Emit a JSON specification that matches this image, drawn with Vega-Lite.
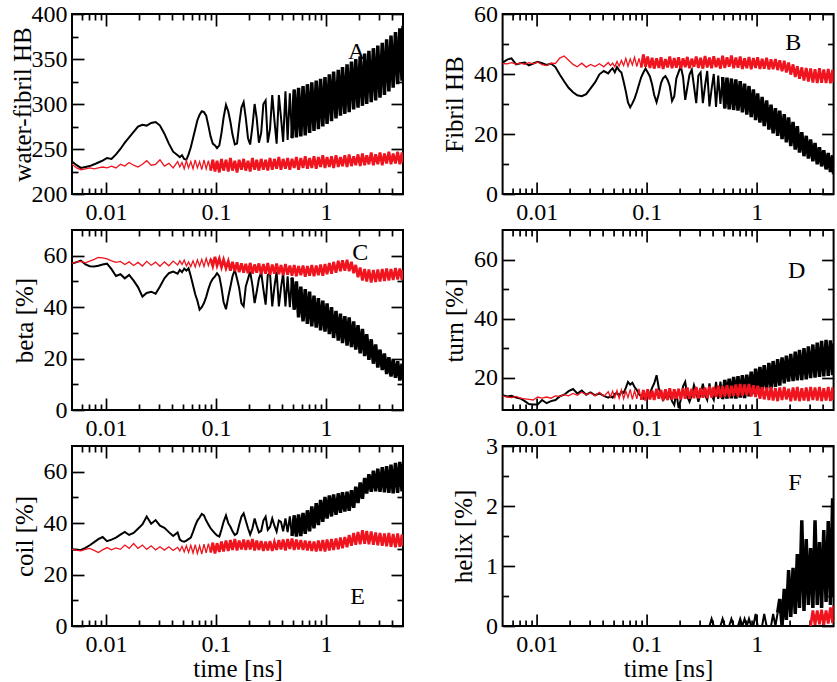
{
"$schema":"https://vega.github.io/schema/vega-lite/v6.json",
"background":"white",
"padding":{"left":8,"top":1,"right":2,"bottom":2},
"config":{
 "view":{"stroke":"black","strokeWidth":2},
 "font":"Liberation Serif",
 "style":{"guide-label":{"font":"Liberation Serif"},"guide-title":{"font":"Liberation Serif"}},
 "axis":{"domain":false,"grid":false,"labelFont":"Liberation Serif","labelFontSize":24,"labelColor":"black","titleFont":"Liberation Serif","titleFontSize":25,"titleFontWeight":"normal","titleColor":"black","tickColor":"black","tickWidth":1.7,"labelFlush":false,"labelOverlap":false}
},
"datasets":{"main":[
{"t":0.0049,"a":236,"ar":233,"b":43.8,"br":43.5,"c":57.0,"cr":57.0,"d":14.0,"dr":13.8,"e":29.9,"er":29.9,"f":0},
{"t":0.0054,"a":232,"ar":229,"b":44.8,"br":43.4,"c":57.5,"cr":57.6,"d":13.6,"dr":13.4,"e":29.6,"er":29.4,"f":0},
{"t":0.0059,"a":229,"ar":227,"b":45.2,"br":43.8,"c":58.1,"cr":57.8,"d":13.8,"dr":13.2,"e":29.6,"er":29.2,"f":0},
{"t":0.0065,"a":230,"ar":228,"b":43.2,"br":43.3,"c":56.6,"cr":57.2,"d":13.2,"dr":13.6,"e":30.4,"er":29.8,"f":0},
{"t":0.0071,"a":231,"ar":229,"b":43.6,"br":43.6,"c":55.9,"cr":57.9,"d":12.9,"dr":13.0,"e":31.4,"er":30.2,"f":0},
{"t":0.0078,"a":233,"ar":228,"b":43.8,"br":43.2,"c":55.8,"cr":58.6,"d":12.0,"dr":12.8,"e":32.6,"er":29.4,"f":0},
{"t":0.0085,"a":235,"ar":229,"b":42.9,"br":43.8,"c":56.1,"cr":59.3,"d":11.0,"dr":12.6,"e":33.8,"er":28.6,"f":0},
{"t":0.0093,"a":237,"ar":230,"b":43.5,"br":43.4,"c":56.6,"cr":59.2,"d":10.9,"dr":12.4,"e":34.6,"er":29.6,"f":0},
{"t":0.0102,"a":240,"ar":229,"b":44.1,"br":44.0,"c":56.9,"cr":58.8,"d":10.9,"dr":13.4,"e":33.0,"er":30.5,"f":0},
{"t":0.0112,"a":239,"ar":231,"b":43.6,"br":43.1,"c":54.8,"cr":58.0,"d":12.4,"dr":13.0,"e":33.6,"er":29.6,"f":0},
{"t":0.0123,"a":244,"ar":229,"b":43.0,"br":42.8,"c":52.1,"cr":57.4,"d":11.3,"dr":13.4,"e":34.4,"er":30.4,"f":0},
{"t":0.0135,"a":250,"ar":233,"b":43.5,"br":43.6,"c":52.8,"cr":57.8,"d":12.0,"dr":13.0,"e":35.5,"er":29.8,"f":0},
{"t":0.0148,"a":257,"ar":231,"b":42.3,"br":43.5,"c":51.2,"cr":56.6,"d":12.4,"dr":13.8,"e":36.6,"er":31.5,"f":0},
{"t":0.0162,"a":263,"ar":235,"b":39.8,"br":45.3,"c":52.5,"cr":57.6,"d":13.6,"dr":13.6,"e":35.4,"er":30.2,"f":0},
{"t":0.0178,"a":269,"ar":232,"b":37.5,"br":46.0,"c":50.3,"cr":56.2,"d":14.2,"dr":14.2,"e":36.2,"er":32.1,"f":0},
{"t":0.0195,"a":275,"ar":230,"b":35.4,"br":44.6,"c":47.8,"cr":57.4,"d":15.4,"dr":13.8,"e":37.8,"er":30.2,"f":0},
{"t":0.0214,"a":277,"ar":233,"b":33.9,"br":43.2,"c":44.1,"cr":56.0,"d":16.1,"dr":14.6,"e":39.5,"er":31.5,"f":0},
{"t":0.0234,"a":276,"ar":237,"b":32.9,"br":42.4,"c":45.5,"cr":57.8,"d":14.6,"dr":14.0,"e":42.6,"er":29.8,"f":0},
{"t":0.0257,"a":279,"ar":232,"b":32.6,"br":43.6,"c":46.0,"cr":56.3,"d":15.6,"dr":15.0,"e":39.8,"er":31.2,"f":0},
{"t":0.0282,"a":280,"ar":233,"b":33.3,"br":42.3,"c":45.2,"cr":57.5,"d":14.2,"dr":14.2,"e":41.2,"er":29.6,"f":0},
{"t":0.0309,"a":276,"ar":238,"b":35.2,"br":43.2,"c":48.0,"cr":55.9,"d":15.0,"dr":14.8,"e":39.0,"er":30.8,"f":0},
{"t":0.0339,"a":267,"ar":231,"b":37.2,"br":42.5,"c":51.2,"cr":57.6,"d":14.0,"dr":13.8,"e":38.2,"er":29.5,"f":0},
{"t":0.0372,"a":256,"ar":234,"b":39.9,"br":43.4,"c":53.2,"cr":56.1,"d":14.6,"dr":15.0,"e":36.5,"er":30.8,"f":0},
{"t":0.0407,"a":247,"ar":229,"b":41.0,"br":42.4,"c":53.8,"cr":57.9,"d":13.8,"dr":13.6,"e":35.0,"er":29.4,"f":0},
{"t":0.0447,"a":243,"ar":236,"b":40.2,"br":43.8,"c":53.0,"cr":56.4,"d":13.2,"dr":15.2,"e":36.4,"er":30.6,"f":0},
{"t":0.0468,"a":241,"ar":230,"b":41.2,"br":42.8,"c":54.5,"cr":58.0,"d":13.6,"dr":13.4,"e":33.6,"er":29.2,"f":0},
{"t":0.049,"a":243,"ar":235,"b":41.9,"br":43.6,"c":53.6,"cr":56.6,"d":13.2,"dr":15.4,"e":33.0,"er":31.0,"f":0},
{"t":0.0513,"a":239,"ar":228,"b":40.6,"br":42.4,"c":55.0,"cr":58.3,"d":14.4,"dr":13.2,"e":32.8,"er":28.8,"f":0},
{"t":0.0537,"a":238,"ar":237,"b":42.3,"br":44.2,"c":54.2,"cr":56.0,"d":14.8,"dr":15.6,"e":33.2,"er":31.2,"f":0},
{"t":0.0562,"a":244,"ar":229,"b":41.2,"br":42.6,"c":55.1,"cr":57.6,"d":13.8,"dr":13.0,"e":33.8,"er":28.6,"f":0},
{"t":0.0589,"a":252,"ar":236,"b":40.5,"br":44.5,"c":52.0,"cr":55.8,"d":15.2,"dr":15.8,"e":34.4,"er":31.4,"f":0},
{"t":0.0617,"a":262,"ar":228,"b":37.5,"br":42.8,"c":48.5,"cr":58.0,"d":14.8,"dr":12.8,"e":36.6,"er":28.4,"f":0},
{"t":0.0646,"a":272,"ar":238,"b":34.2,"br":45.2,"c":45.0,"cr":55.6,"d":16.5,"dr":15.4,"e":39.0,"er":31.6,"f":0},
{"t":0.0676,"a":282,"ar":229,"b":30.5,"br":42.6,"c":42.5,"cr":58.4,"d":18.5,"dr":13.2,"e":41.0,"er":28.2,"f":0},
{"t":0.0708,"a":288,"ar":236,"b":28.9,"br":45.0,"c":39.0,"cr":56.0,"d":17.6,"dr":16.0,"e":42.2,"er":31.2,"f":0},
{"t":0.0741,"a":292,"ar":227,"b":30.2,"br":43.0,"c":40.0,"cr":58.6,"d":18.2,"dr":12.6,"e":43.6,"er":28.0,"f":0},
{"t":0.0776,"a":291,"ar":238,"b":31.8,"br":45.6,"c":41.6,"cr":55.8,"d":16.8,"dr":15.6,"e":43.0,"er":31.8,"f":0},
{"t":0.0813,"a":287,"ar":228,"b":34.0,"br":42.5,"c":44.0,"cr":59.0,"d":15.8,"dr":12.8,"e":41.0,"er":28.4,"f":0},
{"t":0.0851,"a":276,"ar":237,"b":36.5,"br":45.2,"c":47.0,"cr":56.2,"d":14.4,"dr":16.2,"e":39.5,"er":32.0,"f":0},
{"t":0.0891,"a":264,"ar":226,"b":38.9,"br":42.2,"c":49.5,"cr":58.8,"d":13.6,"dr":12.4,"e":38.0,"er":28.6,"f":0},
{"t":0.0933,"a":256,"ar":238,"b":40.5,"br":46.5,"c":51.0,"cr":56.0,"d":12.9,"dr":15.8,"e":37.0,"er":32.4,"f":0},
{"t":0.0977,"a":254,"ar":225,"b":41.8,"br":42.4,"c":52.0,"cr":59.6,"d":14.0,"dr":12.2,"e":36.0,"er":28.2,"f":0},
{"t":0.102,"a":251,"ar":237,"b":40.6,"br":45.8,"c":53.2,"cr":56.2,"d":13.2,"dr":16.0,"e":35.2,"er":32.2,"f":0},
{"t":0.107,"a":254,"ar":224,"b":39.2,"br":42.0,"c":52.0,"cr":58.8,"d":14.6,"dr":12.6,"e":34.8,"er":28.8,"f":0},
{"t":0.112,"a":268,"ar":239,"b":36.5,"br":45.4,"c":47.5,"cr":55.6,"d":16.5,"dr":15.6,"e":37.5,"er":32.8,"f":0},
{"t":0.117,"a":285,"ar":226,"b":33.0,"br":41.8,"c":42.0,"cr":58.4,"d":18.0,"dr":12.4,"e":40.5,"er":29.0,"f":0},
{"t":0.123,"a":299,"ar":238,"b":30.6,"br":45.2,"c":39.2,"cr":55.2,"d":20.8,"dr":16.2,"e":43.0,"er":33.2,"f":0},
{"t":0.129,"a":292,"ar":225,"b":33.5,"br":42.0,"c":44.0,"cr":57.8,"d":16.3,"dr":12.8,"e":40.0,"er":29.2,"f":0},
{"t":0.135,"a":280,"ar":240,"b":37.0,"br":45.6,"c":48.0,"cr":54.2,"d":14.5,"dr":15.8,"e":38.6,"er":33.4,"f":0},
{"t":0.141,"a":266,"ar":226,"b":38.6,"br":41.7,"c":52.0,"cr":57.6,"d":12.4,"dr":12.2,"e":36.8,"er":29.6,"f":0},
{"t":0.148,"a":255,"ar":237,"b":39.3,"br":45.0,"c":54.5,"cr":54.0,"d":13.6,"dr":16.0,"e":35.4,"er":33.8,"f":0},
{"t":0.155,"a":256,"ar":224,"b":38.0,"br":42.2,"c":51.0,"cr":57.4,"d":12.8,"dr":12.4,"e":36.0,"er":29.4,"f":0},
{"t":0.162,"a":277,"ar":238,"b":36.0,"br":45.8,"c":47.5,"cr":53.6,"d":14.2,"dr":16.4,"e":39.3,"er":33.2,"f":0},
{"t":0.170,"a":296,"ar":227,"b":31.0,"br":41.9,"c":41.5,"cr":57.0,"d":12.0,"dr":12.6,"e":42.5,"er":29.8,"f":0},
{"t":0.178,"a":302,"ar":239,"b":32.5,"br":45.3,"c":40.3,"cr":53.4,"d":10.7,"dr":16.0,"e":43.8,"er":33.6,"f":0},
{"t":0.186,"a":285,"ar":226,"b":38.5,"br":42.1,"c":48.0,"cr":56.8,"d":15.0,"dr":12.8,"e":41.0,"er":29.6,"f":0},
{"t":0.195,"a":262,"ar":237,"b":40.6,"br":45.6,"c":51.0,"cr":53.2,"d":9.6,"dr":16.2,"e":38.0,"er":33.4,"f":0},
{"t":0.204,"a":255,"ar":225,"b":42.6,"br":41.8,"c":53.8,"cr":57.2,"d":12.5,"dr":12.6,"e":35.6,"er":29.8,"f":0},
{"t":0.214,"a":275,"ar":240,"b":39.0,"br":45.2,"c":48.5,"cr":53.0,"d":17.0,"dr":16.4,"e":38.0,"er":33.8,"f":0},
{"t":0.224,"a":300,"ar":227,"b":31.4,"br":42.3,"c":41.6,"cr":56.6,"d":18.5,"dr":12.8,"e":41.8,"er":29.4,"f":0},
{"t":0.234,"a":284,"ar":238,"b":35.5,"br":45.7,"c":46.0,"cr":53.4,"d":13.5,"dr":16.6,"e":39.0,"er":33.2,"f":0},
{"t":0.245,"a":257,"ar":226,"b":39.8,"br":41.9,"c":51.0,"cr":57.0,"d":11.8,"dr":12.8,"e":36.4,"er":29.6,"f":0},
{"t":0.257,"a":268,"ar":239,"b":41.4,"br":45.1,"c":53.5,"cr":52.8,"d":14.0,"dr":16.2,"e":37.0,"er":33.0,"f":0},
{"t":0.269,"a":300,"ar":227,"b":36.0,"br":42.4,"c":47.0,"cr":56.8,"d":17.4,"dr":13.0,"e":41.0,"er":29.2,"f":0},
{"t":0.282,"a":304,"ar":238,"b":30.3,"br":45.8,"c":41.0,"cr":53.0,"d":15.0,"dr":16.8,"e":42.5,"er":32.8,"f":0},
{"t":0.295,"a":257,"ar":226,"b":39.5,"br":42.0,"c":52.5,"cr":57.2,"d":11.8,"dr":12.9,"e":37.4,"er":29.4,"f":0},
{"t":0.309,"a":272,"ar":240,"b":40.5,"br":45.4,"c":53.2,"cr":52.6,"d":14.5,"dr":16.4,"e":38.5,"er":33.0,"f":0},
{"t":0.324,"a":310,"ar":227,"b":30.3,"br":41.8,"c":40.3,"cr":56.6,"d":17.9,"dr":13.2,"e":41.8,"er":29.2,"f":0},
{"t":0.339,"a":282,"ar":239,"b":36.0,"br":46.0,"c":48.0,"cr":53.0,"d":14.0,"dr":16.6,"e":39.0,"er":32.6,"f":0},
{"t":0.355,"a":256,"ar":228,"b":41.0,"br":42.2,"c":53.8,"cr":57.0,"d":12.4,"dr":13.0,"e":36.7,"er":29.6,"f":0},
{"t":0.372,"a":310,"ar":241,"b":29.2,"br":45.5,"c":40.3,"cr":52.8,"d":18.0,"dr":17.0,"e":41.0,"er":33.4,"f":0},
{"t":0.389,"a":285,"ar":227,"b":35.0,"br":41.9,"c":47.5,"cr":56.4,"d":14.0,"dr":13.2,"e":40.5,"er":29.8,"f":0.12},
{"t":0.407,"a":258,"ar":239,"b":40.0,"br":45.9,"c":53.2,"cr":52.4,"d":12.4,"dr":16.8,"e":36.8,"er":33.6,"f":0},
{"t":0.427,"a":314,"ar":228,"b":29.0,"br":42.3,"c":40.3,"cr":56.8,"d":18.5,"dr":13.4,"e":41.8,"er":29.4,"f":0},
{"t":0.447,"a":260,"ar":240,"b":39.5,"br":45.3,"c":52.0,"cr":52.6,"d":12.8,"dr":17.2,"e":36.5,"er":33.8,"f":0},
{"t":0.468,"a":312,"ar":227,"b":30.0,"br":41.8,"c":40.0,"cr":56.2,"d":18.6,"dr":13.2,"e":42.6,"er":30.0,"f":0},
{"t":0.490,"a":262,"ar":239,"b":39.0,"br":46.1,"c":51.5,"cr":52.2,"d":12.7,"dr":17.0,"e":35.0,"er":34.0,"f":0.12},
{"t":0.513,"a":316,"ar":229,"b":28.5,"br":42.0,"c":39.0,"cr":56.4,"d":19.2,"dr":13.6,"e":43.0,"er":29.6,"f":0},
{"t":0.537,"a":263,"ar":241,"b":38.8,"br":45.6,"c":50.0,"cr":52.0,"d":12.9,"dr":17.4,"e":34.8,"er":33.6,"f":0},
{"t":0.562,"a":318,"ar":227,"b":28.2,"br":42.4,"c":36.0,"cr":56.0,"d":19.6,"dr":13.4,"e":43.4,"er":29.8,"f":0},
{"t":0.589,"a":264,"ar":240,"b":38.5,"br":46.2,"c":48.0,"cr":52.4,"d":13.0,"dr":17.2,"e":35.0,"er":33.4,"f":0.12},
{"t":0.617,"a":320,"ar":229,"b":28.0,"br":41.9,"c":34.5,"cr":56.2,"d":20.2,"dr":13.8,"e":44.0,"er":29.6,"f":0},
{"t":0.646,"a":265,"ar":242,"b":38.2,"br":45.5,"c":47.0,"cr":51.8,"d":12.9,"dr":17.6,"e":35.8,"er":33.2,"f":0},
{"t":0.676,"a":322,"ar":228,"b":27.8,"br":42.1,"c":33.5,"cr":56.0,"d":20.5,"dr":13.6,"e":45.0,"er":29.4,"f":0},
{"t":0.708,"a":268,"ar":240,"b":37.6,"br":45.8,"c":46.0,"cr":52.2,"d":13.2,"dr":17.8,"e":36.8,"er":33.0,"f":0.12},
{"t":0.741,"a":324,"ar":229,"b":27.2,"br":41.7,"c":32.5,"cr":56.4,"d":20.8,"dr":13.8,"e":46.5,"er":29.2,"f":0},
{"t":0.776,"a":270,"ar":242,"b":36.8,"br":45.2,"c":44.5,"cr":52.0,"d":13.0,"dr":17.6,"e":38.0,"er":32.8,"f":0.12},
{"t":0.813,"a":326,"ar":228,"b":26.5,"br":41.9,"c":32.0,"cr":56.2,"d":21.0,"dr":14.0,"e":47.8,"er":29.0,"f":0},
{"t":0.851,"a":272,"ar":241,"b":36.0,"br":45.7,"c":43.5,"cr":52.4,"d":13.6,"dr":17.8,"e":39.2,"er":33.2,"f":0.12},
{"t":0.891,"a":328,"ar":230,"b":25.6,"br":41.6,"c":31.0,"cr":56.6,"d":22.0,"dr":13.6,"e":49.0,"er":29.2,"f":0},
{"t":0.933,"a":275,"ar":243,"b":34.9,"br":45.3,"c":42.5,"cr":52.2,"d":14.5,"dr":17.4,"e":40.5,"er":33.4,"f":0},
{"t":0.977,"a":330,"ar":229,"b":24.6,"br":42.0,"c":30.5,"cr":56.8,"d":23.0,"dr":13.4,"e":50.2,"er":29.0,"f":0.2},
{"t":1.02,"a":278,"ar":241,"b":33.5,"br":45.6,"c":41.5,"cr":52.8,"d":15.2,"dr":17.2,"e":41.8,"er":33.6,"f":0},
{"t":1.07,"a":333,"ar":230,"b":23.8,"br":41.7,"c":29.5,"cr":57.2,"d":23.6,"dr":12.8,"e":50.8,"er":29.4,"f":0},
{"t":1.12,"a":281,"ar":242,"b":32.4,"br":45.1,"c":40.0,"cr":53.0,"d":15.6,"dr":16.8,"e":42.6,"er":33.8,"f":0},
{"t":1.17,"a":336,"ar":229,"b":22.6,"br":41.8,"c":28.0,"cr":57.6,"d":24.2,"dr":12.6,"e":51.2,"er":29.6,"f":0.2},
{"t":1.23,"a":284,"ar":243,"b":31.2,"br":45.4,"c":38.5,"cr":53.4,"d":16.0,"dr":16.6,"e":43.2,"er":34.0,"f":0},
{"t":1.29,"a":338,"ar":230,"b":21.5,"br":41.5,"c":27.0,"cr":58.0,"d":25.0,"dr":12.4,"e":51.6,"er":29.8,"f":0},
{"t":1.35,"a":287,"ar":241,"b":29.8,"br":44.9,"c":37.5,"cr":54.0,"d":16.3,"dr":16.8,"e":44.0,"er":34.4,"f":0},
{"t":1.41,"a":341,"ar":231,"b":20.2,"br":41.6,"c":26.0,"cr":58.2,"d":25.6,"dr":12.2,"e":52.0,"er":30.2,"f":0.2},
{"t":1.48,"a":289,"ar":243,"b":28.6,"br":45.0,"c":36.5,"cr":54.2,"d":16.8,"dr":16.4,"e":44.5,"er":34.6,"f":0},
{"t":1.55,"a":344,"ar":230,"b":19.4,"br":41.3,"c":25.0,"cr":58.4,"d":26.2,"dr":12.0,"e":52.2,"er":30.6,"f":0.22},
{"t":1.62,"a":291,"ar":244,"b":27.8,"br":44.6,"c":36.0,"cr":54.0,"d":17.3,"dr":16.6,"e":44.8,"er":35.4,"f":0.45},
{"t":1.70,"a":347,"ar":231,"b":18.3,"br":40.9,"c":24.5,"cr":57.6,"d":26.8,"dr":12.4,"e":52.8,"er":31.2,"f":0},
{"t":1.78,"a":294,"ar":242,"b":26.6,"br":44.4,"c":34.5,"cr":53.2,"d":18.0,"dr":16.8,"e":46.0,"er":36.2,"f":0.62},
{"t":1.86,"a":350,"ar":232,"b":17.2,"br":40.5,"c":23.5,"cr":56.4,"d":27.4,"dr":12.6,"e":54.2,"er":31.6,"f":0.1},
{"t":1.95,"a":296,"ar":244,"b":25.5,"br":43.8,"c":33.0,"cr":51.6,"d":18.6,"dr":16.2,"e":47.8,"er":36.6,"f":0.93},
{"t":2.04,"a":353,"ar":231,"b":16.0,"br":39.8,"c":22.0,"cr":55.4,"d":28.0,"dr":12.0,"e":55.8,"er":31.8,"f":0.15},
{"t":2.14,"a":298,"ar":245,"b":24.0,"br":43.2,"c":31.5,"cr":50.4,"d":18.8,"dr":16.6,"e":49.5,"er":37.2,"f":0.97},
{"t":2.24,"a":356,"ar":232,"b":14.8,"br":39.0,"c":21.0,"cr":54.8,"d":28.8,"dr":12.2,"e":57.6,"er":32.0,"f":0.2},
{"t":2.34,"a":300,"ar":243,"b":22.6,"br":42.6,"c":29.5,"cr":50.0,"d":19.0,"dr":16.8,"e":51.5,"er":37.0,"f":1.2},
{"t":2.45,"a":359,"ar":233,"b":13.8,"br":38.4,"c":19.5,"cr":54.6,"d":29.4,"dr":12.0,"e":59.0,"er":31.8,"f":0.3},
{"t":2.57,"a":302,"ar":246,"b":20.6,"br":42.2,"c":27.5,"cr":49.6,"d":19.1,"dr":16.4,"e":52.2,"er":36.8,"f":1.76},
{"t":2.69,"a":362,"ar":232,"b":12.6,"br":37.8,"c":18.0,"cr":54.4,"d":30.0,"dr":12.2,"e":60.4,"er":31.6,"f":0.25},
{"t":2.82,"a":304,"ar":244,"b":19.4,"br":42.0,"c":25.5,"cr":49.8,"d":19.4,"dr":16.6,"e":52.4,"er":36.4,"f":1.45},
{"t":2.95,"a":365,"ar":233,"b":11.8,"br":37.5,"c":16.5,"cr":54.6,"d":30.6,"dr":12.0,"e":61.2,"er":31.4,"f":0.35},
{"t":3.09,"a":307,"ar":246,"b":18.2,"br":41.8,"c":23.5,"cr":50.0,"d":19.8,"dr":16.8,"e":52.2,"er":36.2,"f":1.3,"fr":0},
{"t":3.24,"a":368,"ar":232,"b":10.9,"br":37.2,"c":15.5,"cr":54.8,"d":31.2,"dr":12.4,"e":61.8,"er":31.2,"f":0.3,"fr":0.26},
{"t":3.39,"a":310,"ar":245,"b":17.0,"br":41.6,"c":22.0,"cr":50.2,"d":20.0,"dr":16.6,"e":52.0,"er":36.0,"f":1.76,"fr":0.02},
{"t":3.55,"a":372,"ar":234,"b":9.9,"br":37.0,"c":14.0,"cr":55.0,"d":31.8,"dr":12.2,"e":62.2,"er":31.0,"f":0.35,"fr":0.26},
{"t":3.72,"a":314,"ar":247,"b":15.6,"br":41.9,"c":20.5,"cr":50.4,"d":20.2,"dr":16.8,"e":51.8,"er":36.2,"f":1.4,"fr":0.03},
{"t":3.89,"a":376,"ar":233,"b":9.2,"br":37.1,"c":13.0,"cr":54.8,"d":32.4,"dr":12.0,"e":62.8,"er":30.8,"f":0.3,"fr":0.27},
{"t":4.07,"a":318,"ar":245,"b":14.6,"br":41.5,"c":19.5,"cr":50.6,"d":20.4,"dr":16.4,"e":51.6,"er":35.8,"f":1.6,"fr":0.02},
{"t":4.27,"a":380,"ar":234,"b":8.2,"br":37.0,"c":12.5,"cr":55.2,"d":32.8,"dr":12.2,"e":63.4,"er":30.6,"f":0.4,"fr":0.26},
{"t":4.47,"a":322,"ar":247,"b":13.7,"br":41.7,"c":19.0,"cr":50.8,"d":20.6,"dr":16.8,"e":51.8,"er":36.0,"f":1.75,"fr":0.04},
{"t":4.68,"a":384,"ar":233,"b":7.3,"br":36.9,"c":11.5,"cr":55.0,"d":32.6,"dr":12.0,"e":63.8,"er":30.8,"f":0.35,"fr":0.31},
{"t":4.90,"a":326,"ar":246,"b":12.9,"br":41.4,"c":18.0,"cr":50.6,"d":20.8,"dr":16.6,"e":52.4,"er":35.6,"f":2.13,"fr":0.05},
{"t":5.0,"a":387,"ar":235,"b":6.6,"br":37.3,"c":12.0,"cr":54.4,"d":31.5,"dr":12.4,"e":63.0,"er":31.2,"f":0.5,"fr":0.34}
]},
"columns":2,
"spacing":{"row":36,"column":99.6},
"bounds":"flush",
"concat":[
{"width":331,"height":180,"layer":[
 {"data":{"name":"main"},"transform":[{"filter":"datum.t <= 0.52"}],"mark":{"type":"line","color":"black","strokeWidth":2,"clip":true},"encoding":{
  "x":{"field":"t","type":"quantitative","scale":{"type":"log","domain":[0.0049,5],"nice":false},"axis":{"orient":"bottom","values":[0.01,0.1,1],"format":"~g","tickSize":-12,"labelPadding":18,"labelFont":"Liberation Serif","title":null}},
  "y":{"field":"a","type":"quantitative","scale":{"domain":[200,400],"nice":false,"zero":false},"axis":{"orient":"left","values":[200,250,300,350,400],"tickSize":-12,"labelPadding":17,"labelFont":"Liberation Serif","titleFont":"Liberation Serif","title":"water-fibril HB","titleX":-42,"titleY":90,"titleBaseline":"alphabetic","titleAngle":-90}}}},
 {"data":{"name":"main"},"transform":[{"filter":"datum.t >= 0.48"}],"mark":{"type":"line","color":"black","strokeWidth":3.5,"clip":true},"encoding":{
  "x":{"field":"t","type":"quantitative","scale":{"type":"log","domain":[0.0049,5],"nice":false},"axis":{"orient":"bottom","values":[0.006,0.007,0.008,0.009,0.02,0.03,0.04,0.05,0.06,0.07,0.08,0.09,0.2,0.3,0.4,0.5,0.6,0.7,0.8,0.9,2,3,4],"tickSize":-6,"labels":false,"title":null}},
  "y":{"field":"a","type":"quantitative","scale":{"domain":[200,400],"nice":false,"zero":false},"axis":{"orient":"left","values":[225,275,325,375],"tickSize":-6,"labels":false,"title":null}}}},
 {"data":{"name":"main"},"transform":[{"filter":"datum.t <= 0.0933"}],"mark":{"type":"line","color":"#f0141e","strokeWidth":1.3,"clip":true},"encoding":{
  "x":{"field":"t","type":"quantitative","scale":{"type":"log","domain":[0.0049,5],"nice":false},"axis":{"orient":"top","values":[0.01,0.1,1],"tickSize":-12,"labels":false,"title":null}},
  "y":{"field":"ar","type":"quantitative","scale":{"domain":[200,400],"nice":false,"zero":false},"axis":{"orient":"right","values":[200,250,300,350,400],"tickSize":-12,"labels":false,"title":null}}}},
 {"data":{"name":"main"},"transform":[{"filter":"datum.t >= 0.0891"}],"mark":{"type":"line","color":"#f0141e","strokeWidth":2.8,"clip":true},"encoding":{
  "x":{"field":"t","type":"quantitative","scale":{"type":"log","domain":[0.0049,5],"nice":false},"axis":{"orient":"top","values":[0.006,0.007,0.008,0.009,0.02,0.03,0.04,0.05,0.06,0.07,0.08,0.09,0.2,0.3,0.4,0.5,0.6,0.7,0.8,0.9,2,3,4],"tickSize":-6,"labels":false,"title":null}},
  "y":{"field":"ar","type":"quantitative","scale":{"domain":[200,400],"nice":false,"zero":false},"axis":{"orient":"right","values":[225,275,325,375],"tickSize":-6,"labels":false,"title":null}}}},
 {"data":{"values":[{"t":1.9,"v":358,"label":"A"}]},"mark":{"type":"text","fontSize":24,"font":"Liberation Serif","color":"black","baseline":"middle","align":"center"},"encoding":{
  "x":{"field":"t","type":"quantitative","scale":{"type":"log","domain":[0.0049,5],"nice":false},"axis":null},
  "y":{"field":"v","type":"quantitative","scale":{"domain":[200,400],"nice":false,"zero":false},"axis":null},
  "text":{"field":"label"}}}
],"resolve":{"axis":{"x":"independent","y":"independent"}}},
{"width":331,"height":180,"layer":[
 {"data":{"name":"main"},"transform":[{"filter":"datum.t <= 0.52"}],"mark":{"type":"line","color":"black","strokeWidth":2,"clip":true},"encoding":{
  "x":{"field":"t","type":"quantitative","scale":{"type":"log","domain":[0.0049,5],"nice":false},"axis":{"orient":"bottom","values":[0.01,0.1,1],"format":"~g","tickSize":-12,"labelPadding":18,"labelFont":"Liberation Serif","title":null}},
  "y":{"field":"b","type":"quantitative","scale":{"domain":[0,60],"nice":false,"zero":false},"axis":{"orient":"left","values":[0,20,40,60],"tickSize":-12,"labelPadding":17,"labelFont":"Liberation Serif","titleFont":"Liberation Serif","title":"Fibril HB","titleX":-40,"titleY":90,"titleBaseline":"alphabetic","titleAngle":-90}}}},
 {"data":{"name":"main"},"transform":[{"filter":"datum.t >= 0.48"}],"mark":{"type":"line","color":"black","strokeWidth":3.5,"clip":true},"encoding":{
  "x":{"field":"t","type":"quantitative","scale":{"type":"log","domain":[0.0049,5],"nice":false},"axis":{"orient":"bottom","values":[0.006,0.007,0.008,0.009,0.02,0.03,0.04,0.05,0.06,0.07,0.08,0.09,0.2,0.3,0.4,0.5,0.6,0.7,0.8,0.9,2,3,4],"tickSize":-6,"labels":false,"title":null}},
  "y":{"field":"b","type":"quantitative","scale":{"domain":[0,60],"nice":false,"zero":false},"axis":{"orient":"left","values":[10,30,50],"tickSize":-6,"labels":false,"title":null}}}},
 {"data":{"name":"main"},"transform":[{"filter":"datum.t <= 0.0933"}],"mark":{"type":"line","color":"#f0141e","strokeWidth":1.3,"clip":true},"encoding":{
  "x":{"field":"t","type":"quantitative","scale":{"type":"log","domain":[0.0049,5],"nice":false},"axis":{"orient":"top","values":[0.01,0.1,1],"tickSize":-12,"labels":false,"title":null}},
  "y":{"field":"br","type":"quantitative","scale":{"domain":[0,60],"nice":false,"zero":false},"axis":{"orient":"right","values":[0,20,40,60],"tickSize":-12,"labels":false,"title":null}}}},
 {"data":{"name":"main"},"transform":[{"filter":"datum.t >= 0.0891"}],"mark":{"type":"line","color":"#f0141e","strokeWidth":2.8,"clip":true},"encoding":{
  "x":{"field":"t","type":"quantitative","scale":{"type":"log","domain":[0.0049,5],"nice":false},"axis":{"orient":"top","values":[0.006,0.007,0.008,0.009,0.02,0.03,0.04,0.05,0.06,0.07,0.08,0.09,0.2,0.3,0.4,0.5,0.6,0.7,0.8,0.9,2,3,4],"tickSize":-6,"labels":false,"title":null}},
  "y":{"field":"br","type":"quantitative","scale":{"domain":[0,60],"nice":false,"zero":false},"axis":{"orient":"right","values":[10,30,50],"tickSize":-6,"labels":false,"title":null}}}},
 {"data":{"values":[{"t":2.15,"v":50.2,"label":"B"}]},"mark":{"type":"text","fontSize":24,"font":"Liberation Serif","color":"black","baseline":"middle","align":"center"},"encoding":{
  "x":{"field":"t","type":"quantitative","scale":{"type":"log","domain":[0.0049,5],"nice":false},"axis":null},
  "y":{"field":"v","type":"quantitative","scale":{"domain":[0,60],"nice":false,"zero":false},"axis":null},
  "text":{"field":"label"}}}
],"resolve":{"axis":{"x":"independent","y":"independent"}}},
{"width":331,"height":180,"layer":[
 {"data":{"name":"main"},"transform":[{"filter":"datum.t <= 0.52"}],"mark":{"type":"line","color":"black","strokeWidth":2,"clip":true},"encoding":{
  "x":{"field":"t","type":"quantitative","scale":{"type":"log","domain":[0.0049,5],"nice":false},"axis":{"orient":"bottom","values":[0.01,0.1,1],"format":"~g","tickSize":-12,"labelPadding":18,"labelFont":"Liberation Serif","title":null}},
  "y":{"field":"c","type":"quantitative","scale":{"domain":[0,70],"nice":false,"zero":false},"axis":{"orient":"left","values":[0,20,40,60],"tickSize":-12,"labelPadding":17,"labelFont":"Liberation Serif","titleFont":"Liberation Serif","title":"beta [%]","titleX":-40,"titleY":90,"titleBaseline":"alphabetic","titleAngle":-90}}}},
 {"data":{"name":"main"},"transform":[{"filter":"datum.t >= 0.48"}],"mark":{"type":"line","color":"black","strokeWidth":3.5,"clip":true},"encoding":{
  "x":{"field":"t","type":"quantitative","scale":{"type":"log","domain":[0.0049,5],"nice":false},"axis":{"orient":"bottom","values":[0.006,0.007,0.008,0.009,0.02,0.03,0.04,0.05,0.06,0.07,0.08,0.09,0.2,0.3,0.4,0.5,0.6,0.7,0.8,0.9,2,3,4],"tickSize":-6,"labels":false,"title":null}},
  "y":{"field":"c","type":"quantitative","scale":{"domain":[0,70],"nice":false,"zero":false},"axis":{"orient":"left","values":[10,30,50],"tickSize":-6,"labels":false,"title":null}}}},
 {"data":{"name":"main"},"transform":[{"filter":"datum.t <= 0.0933"}],"mark":{"type":"line","color":"#f0141e","strokeWidth":1.3,"clip":true},"encoding":{
  "x":{"field":"t","type":"quantitative","scale":{"type":"log","domain":[0.0049,5],"nice":false},"axis":{"orient":"top","values":[0.01,0.1,1],"tickSize":-12,"labels":false,"title":null}},
  "y":{"field":"cr","type":"quantitative","scale":{"domain":[0,70],"nice":false,"zero":false},"axis":{"orient":"right","values":[0,20,40,60],"tickSize":-12,"labels":false,"title":null}}}},
 {"data":{"name":"main"},"transform":[{"filter":"datum.t >= 0.0891"}],"mark":{"type":"line","color":"#f0141e","strokeWidth":2.8,"clip":true},"encoding":{
  "x":{"field":"t","type":"quantitative","scale":{"type":"log","domain":[0.0049,5],"nice":false},"axis":{"orient":"top","values":[0.006,0.007,0.008,0.009,0.02,0.03,0.04,0.05,0.06,0.07,0.08,0.09,0.2,0.3,0.4,0.5,0.6,0.7,0.8,0.9,2,3,4],"tickSize":-6,"labels":false,"title":null}},
  "y":{"field":"cr","type":"quantitative","scale":{"domain":[0,70],"nice":false,"zero":false},"axis":{"orient":"right","values":[10,30,50],"tickSize":-6,"labels":false,"title":null}}}},
 {"data":{"values":[{"t":2.04,"v":60.9,"label":"C"}]},"mark":{"type":"text","fontSize":24,"font":"Liberation Serif","color":"black","baseline":"middle","align":"center"},"encoding":{
  "x":{"field":"t","type":"quantitative","scale":{"type":"log","domain":[0.0049,5],"nice":false},"axis":null},
  "y":{"field":"v","type":"quantitative","scale":{"domain":[0,70],"nice":false,"zero":false},"axis":null},
  "text":{"field":"label"}}}
],"resolve":{"axis":{"x":"independent","y":"independent"}}},
{"width":331,"height":180,"layer":[
 {"data":{"name":"main"},"transform":[{"filter":"datum.t <= 0.52"}],"mark":{"type":"line","color":"black","strokeWidth":2,"clip":true},"encoding":{
  "x":{"field":"t","type":"quantitative","scale":{"type":"log","domain":[0.0049,5],"nice":false},"axis":{"orient":"bottom","values":[0.01,0.1,1],"format":"~g","tickSize":-12,"labelPadding":18,"labelFont":"Liberation Serif","title":null}},
  "y":{"field":"d","type":"quantitative","scale":{"domain":[9,70],"nice":false,"zero":false},"axis":{"orient":"left","values":[20,40,60],"tickSize":-12,"labelPadding":17,"labelFont":"Liberation Serif","titleFont":"Liberation Serif","title":"turn [%]","titleX":-40,"titleY":90,"titleBaseline":"alphabetic","titleAngle":-90}}}},
 {"data":{"name":"main"},"transform":[{"filter":"datum.t >= 0.48"}],"mark":{"type":"line","color":"black","strokeWidth":3.5,"clip":true},"encoding":{
  "x":{"field":"t","type":"quantitative","scale":{"type":"log","domain":[0.0049,5],"nice":false},"axis":{"orient":"bottom","values":[0.006,0.007,0.008,0.009,0.02,0.03,0.04,0.05,0.06,0.07,0.08,0.09,0.2,0.3,0.4,0.5,0.6,0.7,0.8,0.9,2,3,4],"tickSize":-6,"labels":false,"title":null}},
  "y":{"field":"d","type":"quantitative","scale":{"domain":[9,70],"nice":false,"zero":false},"axis":{"orient":"left","values":[30,50],"tickSize":-6,"labels":false,"title":null}}}},
 {"data":{"name":"main"},"transform":[{"filter":"datum.t <= 0.0933"}],"mark":{"type":"line","color":"#f0141e","strokeWidth":1.3,"clip":true},"encoding":{
  "x":{"field":"t","type":"quantitative","scale":{"type":"log","domain":[0.0049,5],"nice":false},"axis":{"orient":"top","values":[0.01,0.1,1],"tickSize":-12,"labels":false,"title":null}},
  "y":{"field":"dr","type":"quantitative","scale":{"domain":[9,70],"nice":false,"zero":false},"axis":{"orient":"right","values":[20,40,60],"tickSize":-12,"labels":false,"title":null}}}},
 {"data":{"name":"main"},"transform":[{"filter":"datum.t >= 0.0891"}],"mark":{"type":"line","color":"#f0141e","strokeWidth":2.8,"clip":true},"encoding":{
  "x":{"field":"t","type":"quantitative","scale":{"type":"log","domain":[0.0049,5],"nice":false},"axis":{"orient":"top","values":[0.006,0.007,0.008,0.009,0.02,0.03,0.04,0.05,0.06,0.07,0.08,0.09,0.2,0.3,0.4,0.5,0.6,0.7,0.8,0.9,2,3,4],"tickSize":-6,"labels":false,"title":null}},
  "y":{"field":"dr","type":"quantitative","scale":{"domain":[9,70],"nice":false,"zero":false},"axis":{"orient":"right","values":[30,50],"tickSize":-6,"labels":false,"title":null}}}},
 {"data":{"values":[{"t":2.31,"v":56,"label":"D"}]},"mark":{"type":"text","fontSize":24,"font":"Liberation Serif","color":"black","baseline":"middle","align":"center"},"encoding":{
  "x":{"field":"t","type":"quantitative","scale":{"type":"log","domain":[0.0049,5],"nice":false},"axis":null},
  "y":{"field":"v","type":"quantitative","scale":{"domain":[9,70],"nice":false,"zero":false},"axis":null},
  "text":{"field":"label"}}}
],"resolve":{"axis":{"x":"independent","y":"independent"}}},
{"width":331,"height":180,"layer":[
 {"data":{"name":"main"},"transform":[{"filter":"datum.t <= 0.52"}],"mark":{"type":"line","color":"black","strokeWidth":2,"clip":true},"encoding":{
  "x":{"field":"t","type":"quantitative","scale":{"type":"log","domain":[0.0049,5],"nice":false},"axis":{"orient":"bottom","values":[0.01,0.1,1],"format":"~g","tickSize":-12,"labelPadding":18,"labelFont":"Liberation Serif","titleFont":"Liberation Serif","title":"time [ns]","titleY":50,"titleBaseline":"alphabetic"}},
  "y":{"field":"e","type":"quantitative","scale":{"domain":[0,70],"nice":false,"zero":false},"axis":{"orient":"left","values":[0,20,40,60],"tickSize":-12,"labelPadding":17,"labelFont":"Liberation Serif","titleFont":"Liberation Serif","title":"coil [%]","titleX":-40,"titleY":90,"titleBaseline":"alphabetic","titleAngle":-90}}}},
 {"data":{"name":"main"},"transform":[{"filter":"datum.t >= 0.48"}],"mark":{"type":"line","color":"black","strokeWidth":3.5,"clip":true},"encoding":{
  "x":{"field":"t","type":"quantitative","scale":{"type":"log","domain":[0.0049,5],"nice":false},"axis":{"orient":"bottom","values":[0.006,0.007,0.008,0.009,0.02,0.03,0.04,0.05,0.06,0.07,0.08,0.09,0.2,0.3,0.4,0.5,0.6,0.7,0.8,0.9,2,3,4],"tickSize":-6,"labels":false,"title":null}},
  "y":{"field":"e","type":"quantitative","scale":{"domain":[0,70],"nice":false,"zero":false},"axis":{"orient":"left","values":[10,30,50],"tickSize":-6,"labels":false,"title":null}}}},
 {"data":{"name":"main"},"transform":[{"filter":"datum.t <= 0.0933"}],"mark":{"type":"line","color":"#f0141e","strokeWidth":1.3,"clip":true},"encoding":{
  "x":{"field":"t","type":"quantitative","scale":{"type":"log","domain":[0.0049,5],"nice":false},"axis":{"orient":"top","values":[0.01,0.1,1],"tickSize":-12,"labels":false,"title":null}},
  "y":{"field":"er","type":"quantitative","scale":{"domain":[0,70],"nice":false,"zero":false},"axis":{"orient":"right","values":[0,20,40,60],"tickSize":-12,"labels":false,"title":null}}}},
 {"data":{"name":"main"},"transform":[{"filter":"datum.t >= 0.0891"}],"mark":{"type":"line","color":"#f0141e","strokeWidth":2.8,"clip":true},"encoding":{
  "x":{"field":"t","type":"quantitative","scale":{"type":"log","domain":[0.0049,5],"nice":false},"axis":{"orient":"top","values":[0.006,0.007,0.008,0.009,0.02,0.03,0.04,0.05,0.06,0.07,0.08,0.09,0.2,0.3,0.4,0.5,0.6,0.7,0.8,0.9,2,3,4],"tickSize":-6,"labels":false,"title":null}},
  "y":{"field":"er","type":"quantitative","scale":{"domain":[0,70],"nice":false,"zero":false},"axis":{"orient":"right","values":[10,30,50],"tickSize":-6,"labels":false,"title":null}}}},
 {"data":{"values":[{"t":1.93,"v":11.1,"label":"E"}]},"mark":{"type":"text","fontSize":24,"font":"Liberation Serif","color":"black","baseline":"middle","align":"center"},"encoding":{
  "x":{"field":"t","type":"quantitative","scale":{"type":"log","domain":[0.0049,5],"nice":false},"axis":null},
  "y":{"field":"v","type":"quantitative","scale":{"domain":[0,70],"nice":false,"zero":false},"axis":null},
  "text":{"field":"label"}}}
],"resolve":{"axis":{"x":"independent","y":"independent"}}},
{"width":331,"height":180,"layer":[
 {"data":{"name":"main"},"transform":[{"filter":"datum.t <= 1.6"}],"mark":{"type":"line","color":"black","strokeWidth":2,"clip":true},"encoding":{
  "x":{"field":"t","type":"quantitative","scale":{"type":"log","domain":[0.0049,5],"nice":false},"axis":{"orient":"bottom","values":[0.01,0.1,1],"format":"~g","tickSize":-12,"labelPadding":18,"labelFont":"Liberation Serif","titleFont":"Liberation Serif","title":"time [ns]","titleY":50,"titleBaseline":"alphabetic"}},
  "y":{"field":"f","type":"quantitative","scale":{"domain":[0,3],"nice":false,"zero":false},"axis":{"orient":"left","values":[0,1,2,3],"tickSize":-12,"labelPadding":17,"labelFont":"Liberation Serif","titleFont":"Liberation Serif","title":"helix [%]","titleX":-31,"titleY":90,"titleBaseline":"alphabetic","titleAngle":-90}}}},
 {"data":{"name":"main"},"transform":[{"filter":"datum.t >= 1.5"}],"mark":{"type":"line","color":"black","strokeWidth":3.5,"clip":true},"encoding":{
  "x":{"field":"t","type":"quantitative","scale":{"type":"log","domain":[0.0049,5],"nice":false},"axis":{"orient":"bottom","values":[0.006,0.007,0.008,0.009,0.02,0.03,0.04,0.05,0.06,0.07,0.08,0.09,0.2,0.3,0.4,0.5,0.6,0.7,0.8,0.9,2,3,4],"tickSize":-6,"labels":false,"title":null}},
  "y":{"field":"f","type":"quantitative","scale":{"domain":[0,3],"nice":false,"zero":false},"axis":{"orient":"left","values":[0.5,1.5,2.5],"tickSize":-6,"labels":false,"title":null}}}},
 {"data":{"name":"main"},"transform":[{"filter":"datum.t <= 0.0933"}],"mark":{"type":"line","color":"#f0141e","strokeWidth":1.3,"clip":true},"encoding":{
  "x":{"field":"t","type":"quantitative","scale":{"type":"log","domain":[0.0049,5],"nice":false},"axis":{"orient":"top","values":[0.01,0.1,1],"tickSize":-12,"labels":false,"title":null}},
  "y":{"field":"fr","type":"quantitative","scale":{"domain":[0,3],"nice":false,"zero":false},"axis":{"orient":"right","values":[0,1,2,3],"tickSize":-12,"labels":false,"title":null}}}},
 {"data":{"name":"main"},"transform":[{"filter":"datum.t >= 0.0891"}],"mark":{"type":"line","color":"#f0141e","strokeWidth":2.8,"clip":true},"encoding":{
  "x":{"field":"t","type":"quantitative","scale":{"type":"log","domain":[0.0049,5],"nice":false},"axis":{"orient":"top","values":[0.006,0.007,0.008,0.009,0.02,0.03,0.04,0.05,0.06,0.07,0.08,0.09,0.2,0.3,0.4,0.5,0.6,0.7,0.8,0.9,2,3,4],"tickSize":-6,"labels":false,"title":null}},
  "y":{"field":"fr","type":"quantitative","scale":{"domain":[0,3],"nice":false,"zero":false},"axis":{"orient":"right","values":[0.5,1.5,2.5],"tickSize":-6,"labels":false,"title":null}}}},
 {"data":{"values":[{"t":2.23,"v":2.39,"label":"F"}]},"mark":{"type":"text","fontSize":24,"font":"Liberation Serif","color":"black","baseline":"middle","align":"center"},"encoding":{
  "x":{"field":"t","type":"quantitative","scale":{"type":"log","domain":[0.0049,5],"nice":false},"axis":null},
  "y":{"field":"v","type":"quantitative","scale":{"domain":[0,3],"nice":false,"zero":false},"axis":null},
  "text":{"field":"label"}}}
],"resolve":{"axis":{"x":"independent","y":"independent"}}}
]
}
